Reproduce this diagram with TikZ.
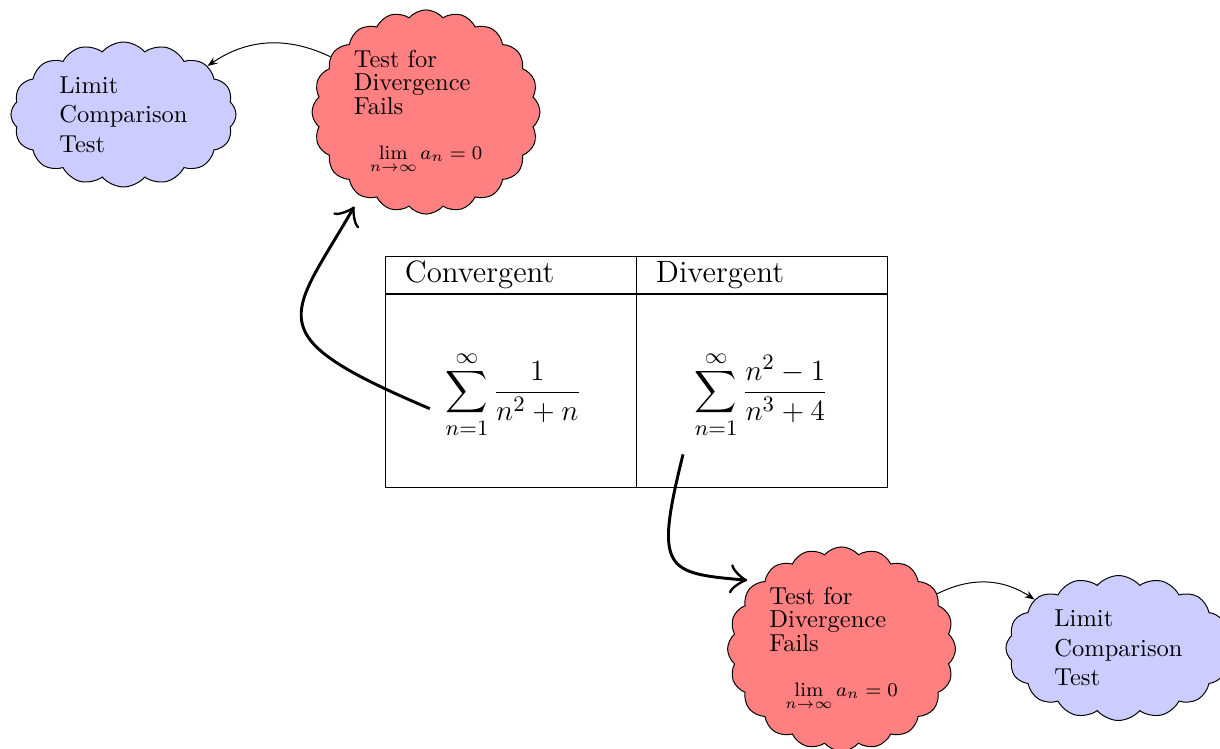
\documentclass[tikz,border=0pt]{standalone}
\usepackage{amsmath}
\usepackage{xcolor}
\usepackage{tikz}
\usetikzlibrary{arrows.meta,shapes.symbols}
\definecolor{ink}{HTML}{000000}
\definecolor{failred}{HTML}{FF8080}
\definecolor{lctblue}{HTML}{CCCCFF}

\begin{document}
\begin{tikzpicture}[
  testcloud/.style={cloud,cloud puffs=20,cloud puff arc=100,cloud ignores aspect,
    draw=ink,fill=failred,minimum width=3.27cm,minimum height=2.93cm,
    align=left,inner sep=0pt},
  lctcloud/.style={cloud,cloud puffs=16,cloud puff arc=100,cloud ignores aspect,
    draw=ink,fill=lctblue,minimum width=3.23cm,minimum height=2.08cm,
    align=left,inner sep=0pt},
  headcell/.style={draw=ink,minimum height=0.545cm,text width=3.03cm,
    inner xsep=0.286cm,inner ysep=1pt,align=left,
    font=\fontsize{12.6pt}{15pt}\selectfont},
  bodycell/.style={draw=ink,minimum width=3.602cm,minimum height=2.77cm},
  series/.style={font=\fontsize{12.6pt}{15pt}\selectfont,inner sep=4pt},
  bigarrow/.style={-{Classical TikZ Rightarrow[length=7pt,width=12pt]},
    very thick,draw=ink,shorten <=2.5pt},
  smallarrow/.style={-{Stealth[length=4pt]},draw=ink}
]
  \useasboundingbox (0,0) rectangle (17.507,-10.734);

  % the two series side by side
  \node[headcell] (convhead) at (7.326,-3.946) {Convergent};
  \node[headcell] (divhead) at (10.928,-3.946) {Divergent};
  \node[bodycell] (convbody) at (7.326,-5.604) {};
  \node[bodycell] (divbody) at (10.928,-5.604) {};
  \node[series] (convsum) at (7.37,-5.66)
    {$\displaystyle\sum_{n=1}^{\infty}\frac{1}{n^2+n}$};
  \node[series] (divsum) at (10.928,-5.66)
    {$\displaystyle\sum_{n=1}^{\infty}\frac{n^2-1}{n^3+4}$};

  \node[lctcloud] (lct1) at (1.772,-1.643) {Limit\\Comparison\\Test};
  \node[testcloud] (test1) at (6.113,-1.607)
    {Test for\\[-2.5pt]Divergence\\[-2.5pt]Fails\\[6.5pt]%
     \hspace*{6.5pt}{\footnotesize$\lim\limits_{n\to\infty} a_n=0$}\hspace*{6.5pt}};
  \node[testcloud] (test2) at (12.076,-9.313)
    {Test for\\[-2.5pt]Divergence\\[-2.5pt]Fails\\[6.5pt]%
     \hspace*{6.5pt}{\footnotesize$\lim\limits_{n\to\infty} a_n=0$}\hspace*{6.5pt}};
  \node[lctcloud] (lct2) at (16.05,-9.299) {Limit\\Comparison\\Test};

  \draw[bigarrow,shorten >=5pt] (convsum.192)
    to[out=157,in=240,out looseness=2.2,in looseness=1.6] (test1.232);
  \draw[bigarrow,shorten >=5.7pt] (divsum.south west)
    to[out=256,in=175,out looseness=2.1,in looseness=1.6] (test2.140);
  \draw[smallarrow] (test1.150) to[bend right=30] (lct1.30);
  \draw[smallarrow] (test2.30) to[bend left=30] (lct2.150);
\end{tikzpicture}
\end{document}
